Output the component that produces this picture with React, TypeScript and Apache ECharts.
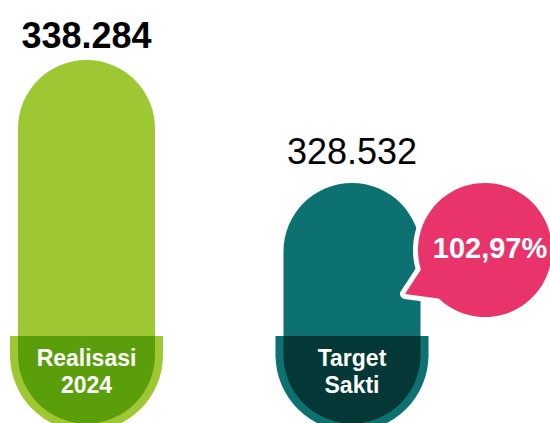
import React, { useEffect, useRef } from "react";
import * as echarts from "echarts";

const categories = ["Realisasi\n2024", "Target\nSakti"];
const values = [338284, 328532];
const barColors = ["#9DC733", "#0C7170"];
const capColors = ["#5B9E0B", "#033837"];
const bubbleColor = "#E8346A";
const yMin = 316400;
const yMax = 343040;

const FONT = "'Liberation Sans', Arial, sans-serif";

function fmtThousands(v: number): string {
  return String(v).replace(/\B(?=(\d{3})+(?!\d))/g, ".");
}

function fmtPercent(r: number): string {
  return (r * 100).toFixed(2).replace(".", ",") + "%";
}

export default function App() {
  const ref = useRef<HTMLDivElement>(null);

  useEffect(() => {
    if (!ref.current) return;
    const chart = echarts.init(ref.current, undefined, { renderer: "svg" });
    const pct = fmtPercent(values[0] / values[1]);

    const option: any = {
      animation: false,
      grid: { left: 86.5, right: 198, top: 0, bottom: 87, containLabel: false },
      xAxis: {
        type: "category",
        data: categories,
        boundaryGap: false,
        show: false,
      },
      yAxis: { type: "value", min: yMin, max: yMax, show: false },
      series: [
        {
          type: "bar",
          z: 2,
          barWidth: 137,
          data: values.map((v, i) => ({
            value: v,
            itemStyle: { color: barColors[i], borderRadius: [68.5, 68.5, 0, 0] },
            label: {
              show: true,
              position: "top",
              distance: i === 0 ? 6 : 13,
              formatter: () => fmtThousands(v),
              fontFamily: FONT,
              fontSize: 36,
              fontWeight: i === 0 ? "bold" : "normal",
              color: "#000",
            },
          })),
        },
        {
          type: "custom",
          z: 5,
          clip: false,
          data: categories.map((_, i) => [i, yMin]),
          encode: { x: 0, y: 1 },
          renderItem: (params: any, api: any) => {
            const idx = api.value(0);
            const base = api.coord([idx, yMin]);
            const cx = base[0];
            const top = base[1];
            const children: any[] = [
              { type: "rect", shape: { x: cx - 76.5, y: top, width: 153, height: 20 }, style: { fill: barColors[idx] } },
              { type: "sector", shape: { cx, cy: top + 19, r0: 0, r: 76.5, startAngle: 0, endAngle: Math.PI, clockwise: true }, style: { fill: barColors[idx] } },
              { type: "rect", shape: { x: cx - 68.5, y: top, width: 137, height: 20 }, style: { fill: capColors[idx] } },
              { type: "sector", shape: { cx, cy: top + 19, r0: 0, r: 68.5, startAngle: 0, endAngle: Math.PI, clockwise: true }, style: { fill: capColors[idx] } },
              {
                type: "text",
                x: cx,
                y: top + 35,
                style: {
                  text: categories[idx],
                  align: "center",
                  verticalAlign: "middle",
                  fontFamily: FONT,
                  fontSize: 23,
                  fontWeight: "bold",
                  lineHeight: 27,
                  fill: "#fff",
                },
              },
            ];
            if (idx === 1) {
              const barTop = api.coord([idx, values[idx]])[1];
              const bx = cx + 133;
              const by = barTop + 67;
              const t = [
                [cx + 53, barTop + 111],
                [cx + 70, barTop + 85],
                [cx + 90, barTop + 116],
              ];
              const d = `M${t[0][0]} ${t[0][1]} L${t[1][0]} ${t[1][1]} L${t[2][0]} ${t[2][1]} Z`;
              children.push(
                { type: "path", shape: { pathData: d }, style: { fill: "#fff", stroke: "#fff", lineWidth: 10, lineJoin: "round" } },
                { type: "circle", shape: { cx: bx, cy: by, r: 72 }, style: { fill: "#fff" } },
                { type: "path", shape: { pathData: d }, style: { fill: bubbleColor } },
                { type: "circle", shape: { cx: bx, cy: by, r: 67 }, style: { fill: bubbleColor } },
                {
                  type: "text",
                  x: bx + 5,
                  y: by - 2,
                  style: {
                    text: pct,
                    align: "center",
                    verticalAlign: "middle",
                    fontFamily: FONT,
                    fontSize: 29,
                    fontWeight: "bold",
                    fill: "#fff",
                  },
                }
              );
            }
            return { type: "group", children };
          },
        },
      ],
    };
    chart.setOption(option);
    return () => chart.dispose();
  }, []);

  return (
    <div
      ref={ref}
      style={{ position: "fixed", left: 0, top: 0, width: 550, height: 423, background: "#fff" }}
    />
  );
}
